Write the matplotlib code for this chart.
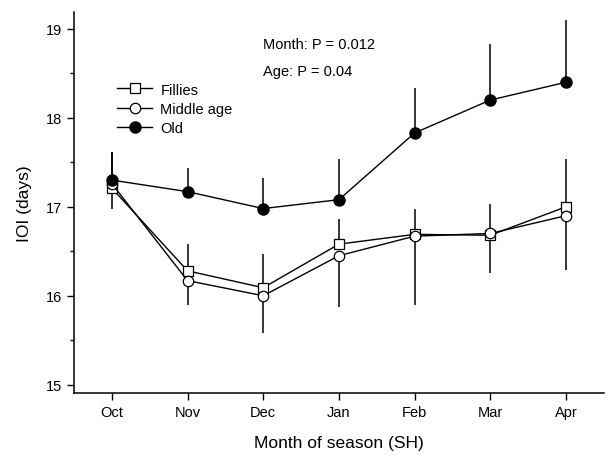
import matplotlib.pyplot as plt
import numpy as np

plt.rcParams['font.family'] = ['Liberation Sans', 'DejaVu Sans']

# data
months = ['Oct', 'Nov', 'Dec', 'Jan', 'Feb', 'Mar', 'Apr']
fillies = [17.21, 16.28, 16.09, 16.58, 16.69, 16.68, 17.00]
fillies_err_up = [0.41, 0.30, 0.38, 0.28, 0.29, 0.35, 0.54]
middle = [17.26, 16.17, 16.00, 16.45, 16.67, 16.70, 16.90]
middle_err_down = [0.28, 0.27, 0.42, 0.58, 0.77, 0.44, 0.61]
old = [17.30, 17.17, 16.98, 17.08, 17.83, 18.20, 18.40]
old_err_up = [0.32, 0.27, 0.34, 0.46, 0.50, 0.63, 0.70]

x = np.arange(len(months))

fig = plt.figure(figsize=(6.1, 4.56), dpi=100)
ax = fig.add_axes([0.1213, 0.1366, 0.8687, 0.835])

# error bars: one-sided, no caps
ax.errorbar(x, fillies, yerr=[np.zeros(len(x)), fillies_err_up], fmt='none',
            ecolor='black', elinewidth=1.1, capsize=0, zorder=1)
ax.errorbar(x, middle, yerr=[middle_err_down, np.zeros(len(x))], fmt='none',
            ecolor='black', elinewidth=1.1, capsize=0, zorder=1)
ax.errorbar(x, old, yerr=[np.zeros(len(x)), old_err_up], fmt='none',
            ecolor='black', elinewidth=1.1, capsize=0, zorder=1)

ax.plot(x, fillies, color='black', lw=1, marker='s', ms=6.5,
        mfc='white', mec='black', mew=0.9, label='Fillies', zorder=3)
ax.plot(x, middle, color='black', lw=1, marker='o', ms=7.5,
        mfc='white', mec='black', mew=0.9, label='Middle age', zorder=4)
ax.plot(x, old, color='black', lw=1, marker='o', ms=8,
        mfc='black', mec='black', label='Old', zorder=5)

ax.set_xlim(-0.5, 6.5)
ax.set_ylim(14.91, 19.19)
ax.set_xticks(x)
ax.set_xticklabels(months)
ax.set_yticks([15, 16, 17, 18, 19])
ax.set_yticks([15.5, 16.5, 17.5, 18.5], minor=True)
ax.tick_params(axis='both', which='major', labelsize=10.5, length=5, width=1)
ax.tick_params(axis='y', which='minor', length=3, width=1)

for side in ['top', 'right']:
    ax.spines[side].set_visible(False)
for side in ['left', 'bottom']:
    ax.spines[side].set_linewidth(1.1)

ax.set_xlabel('Month of season (SH)', fontsize=12.5, labelpad=12)
ax.set_ylabel('IOI (days)', fontsize=12.5, labelpad=10)

ax.legend(loc='upper left', bbox_to_anchor=(0.071, 0.83), frameon=False,
          fontsize=10.5, handlelength=2.4, handletextpad=0.55,
          labelspacing=0.36, borderaxespad=0)

ax.text(0.357, 0.915, 'Month: P = 0.012', transform=ax.transAxes,
        fontsize=10.5, va='center', ha='left')
ax.text(0.357, 0.845, 'Age: P = 0.04', transform=ax.transAxes,
        fontsize=10.5, va='center', ha='left')

fig.savefig('out.png', dpi=100)
